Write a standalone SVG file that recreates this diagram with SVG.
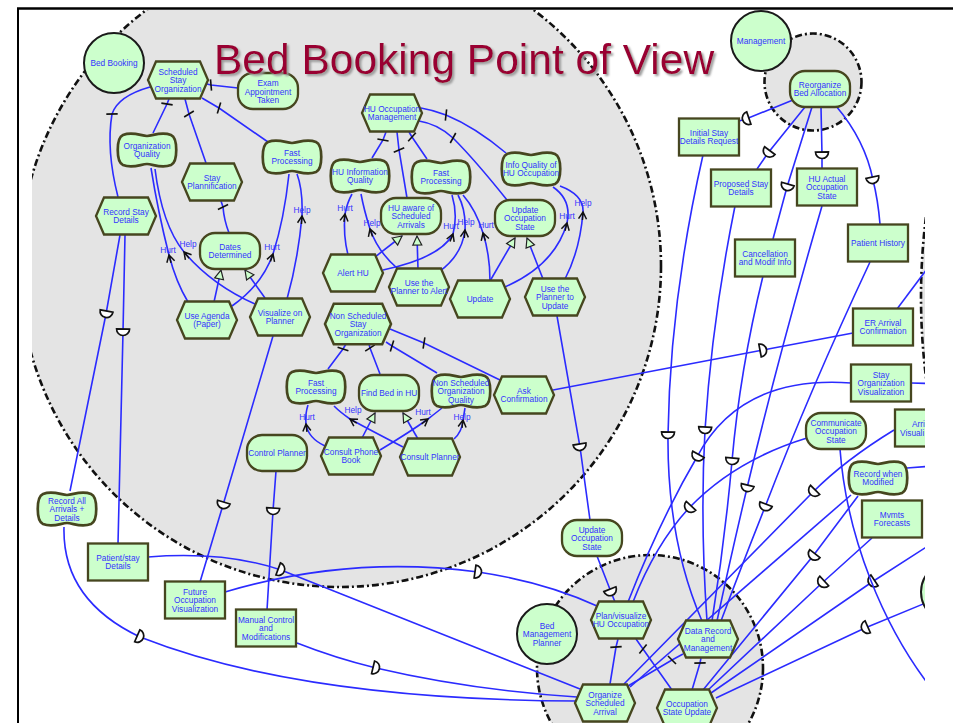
<svg xmlns="http://www.w3.org/2000/svg" width="953" height="723" viewBox="0 0 953 723">
<defs>
<style>
.bnd{fill:#e4e4e4;stroke:#111;stroke-width:2.6;stroke-dasharray:7 3 2 3}
.lk{fill:none;stroke:#2b2bff;stroke-width:1.6}
.dec{marker-mid:url(#tick)}
.con{marker-mid:url(#arr)}
.me{marker-end:url(#tri)}
.dep{marker-mid:url(#dmark)}
.task,.goal,.res{fill:#ccffcc;stroke:#46461f;stroke-width:2.3}
.soft{fill:#ccffcc;stroke:#46461f;stroke-width:2.7}
.actor{fill:#ccffcc;stroke:#1a1a1a;stroke-width:2}
.t{font-family:"Liberation Sans",Arial,sans-serif;font-size:8.3px;fill:#3333ff;text-anchor:middle}
.ts{font-family:"Liberation Sans",Arial,sans-serif;font-size:8.3px;fill:#3333ff}
.title{font-family:"Liberation Sans",Arial,sans-serif;font-size:42.5px;fill:#990033}
</style>
<clipPath id="frame"><rect x="32" y="10" width="893" height="713"/></clipPath>
<filter id="shadow" x="-5%" y="-20%" width="110%" height="150%">
<feDropShadow dx="2" dy="2" stdDeviation="0.8" flood-color="#9a9a9a" flood-opacity="1"/>
</filter>
<marker id="dmark" viewBox="-10 -10 20 20" markerWidth="20" markerHeight="20" refX="0" refY="0" orient="auto" markerUnits="userSpaceOnUse">
<path d="M-3,-6.5 A6.5,6.5 0 0 1 -3,6.5 Z" fill="#fff" stroke="#111" stroke-width="1.7"/>
</marker>
<marker id="tick" viewBox="-10 -10 20 20" markerWidth="20" markerHeight="20" refX="0" refY="0" orient="auto" markerUnits="userSpaceOnUse">
<path d="M-1.5,-5.5 L1.5,5.5" stroke="#111" stroke-width="1.6"/>
</marker>
<marker id="arr" viewBox="-10 -10 20 20" markerWidth="20" markerHeight="20" refX="0" refY="0" orient="auto" markerUnits="userSpaceOnUse">
<path d="M-7,-4 L0,0 L-7,4 M0,0 L-8,0" fill="none" stroke="#111" stroke-width="1.5"/>
</marker>
<marker id="tri" viewBox="-12 -8 16 16" markerWidth="16" markerHeight="16" refX="0" refY="0" orient="auto" markerUnits="userSpaceOnUse">
<path d="M-9,-4.5 L0,0 L-9,4.5 Z" fill="#ccffcc" stroke="#222" stroke-width="1.2"/>
</marker>
<path id="hex" d="M-30,0 L-22,-18.5 L22,-18.5 L30,0 L22,18.5 L-22,18.5 Z"/>
<rect id="goal" x="-30" y="-18" width="60" height="36" rx="15"/>
<rect id="res" x="-30" y="-18.5" width="60" height="37"/>
<path id="soft" d="M-24,-15 C-14,-19 -6,-14 0,-14 C6,-14 14,-19 24,-15 C31,-12 31,12 24,15 C14,19 6,14 0,14 C-6,14 -14,19 -24,15 C-31,12 -31,-12 -24,-15 Z"/>
<circle id="actor" r="30"/>
</defs>

<rect width="953" height="723" fill="#fff"/>

<g clip-path="url(#frame)">
<!-- actor boundaries -->
<g id="boundaries">
<circle class="bnd" cx="340" cy="266" r="321"/>
<circle class="bnd" cx="813" cy="82" r="48.5"/>
<circle class="bnd" cx="650" cy="668" r="113"/>
<circle class="bnd" cx="1571" cy="297" r="650"/>
</g>

<g id="connectors">
<!-- decompositions -->
<path class="lk dec" d="M238,88 L211,85 L207,84"/>
<path class="lk dec" d="M118,197 Q106,150 112,114 Q118,96 150,87"/>
<path class="lk dec" d="M153,133 L167,104 L169,99"/>
<path class="lk dec" d="M206,163 L189,114 L185,99"/>
<path class="lk dec" d="M268,142 L219,108 L202,98"/>
<path class="lk dec" d="M229,233 Q224,220 223,207 L221,201"/>
<path class="lk dec" d="M372,158 L383,140 L386,132"/>
<path class="lk dec" d="M407,198 L399,150 L397,132"/>
<path class="lk dec" d="M427,159 L412,137 L409,132"/>
<path class="lk dec" d="M507,200 Q475,160 453,138 Q438,124 419,121"/>
<path class="lk dec" d="M506,153 Q475,127 446,115 Q433,110 421,108"/>
<path class="lk dec" d="M328,369 L343,349 L346,344"/>
<path class="lk dec" d="M380,374 L370,348 L369,344"/>
<path class="lk dec" d="M437,373 L392,346 L386,342"/>
<path class="lk dec" d="M502,381 L424,343 L390,329"/>
<path class="lk dec" d="M610,684 L616,647 L618,639"/>
<path class="lk dec" d="M628,686 L672,660 L683,654"/>
<path class="lk dec" d="M672,690 L643,649 L636,639"/>
<path class="lk dec" d="M692,690 L700,663 L701,658"/>
<!-- contributions -->
<path class="lk con" d="M188,302 Q176,282 169,255 Q158,212 151,168"/>
<path class="lk con" d="M255,304 Q212,285 184,252 Q162,225 155,169"/>
<path class="lk con" d="M232,306 Q262,285 273,254 Q284,220 289,174"/>
<path class="lk con" d="M287,299 Q298,260 302,216 Q303,190 297,174"/>
<path class="lk con" d="M348,255 Q343,235 345,214 Q347,203 352,194"/>
<path class="lk con" d="M398,269 Q378,252 370,229 Q364,210 361,194"/>
<path class="lk con" d="M383,270 Q440,258 453,234 Q458,215 452,195"/>
<path class="lk con" d="M440,271 Q462,255 465,230 Q466,210 458,195"/>
<path class="lk con" d="M490,281 Q490,255 483,233 Q476,210 463,195"/>
<path class="lk con" d="M505,287 Q555,265 567,223 Q572,200 553,187"/>
<path class="lk con" d="M565,279 Q580,250 583,212 Q584,195 560,186"/>
<path class="lk con" d="M325,446 Q308,438 306,424 Q305,414 308,405"/>
<path class="lk con" d="M403,447 Q370,430 350,419 Q340,412 334,406"/>
<path class="lk con" d="M380,450 Q410,432 428,419 Q437,412 442,408"/>
<path class="lk con" d="M454,439 Q462,432 463,420 Q464,414 465,408"/>
<!-- means-end -->
<path class="lk me" d="M214,302 L221,270"/>
<path class="lk me" d="M265,298 L245,270"/>
<path class="lk me" d="M375,257 L402,236"/>
<path class="lk me" d="M418,269 L417,236"/>
<path class="lk me" d="M490,281 L515,238"/>
<path class="lk me" d="M543,279 L527,238"/>
<path class="lk me" d="M362,438 L375,413"/>
<path class="lk me" d="M418,439 L403,413"/>
<!-- dependencies -->
<path class="lk dep" d="M120,235 L106,314 L70,491"/>
<path class="lk dep" d="M125,235 L123,332 L118,544"/>
<path class="lk dep" d="M273,336 L223,505 L200,582"/>
<path class="lk dep" d="M276,471 L273,511 L267,610"/>
<path class="lk dep" d="M557,316 L580,447 L590,520"/>
<path class="lk dep" d="M597,556 L611,592 L615,602"/>
<path class="lk dep" d="M148,557 Q225,551 281,570 L580,689"/>
<path class="lk dep" d="M225,592 Q350,555 478,572 Q545,582 597,606"/>
<path class="lk dep" d="M297,643 Q335,658 376,668 Q470,690 577,697"/>
<path class="lk dep" d="M64,527 Q62,600 140,637 Q300,700 577,701"/>
<path class="lk dep" d="M553,390 L763,350 L853,333"/>
<path class="lk dep" d="M793,100 L746,119 L739,121"/>
<path class="lk dep" d="M805,107 L768,153 L757,169"/>
<path class="lk dep" d="M812,107 L787,187 L773,239"/>
<path class="lk dep" d="M821,107 L822,155 L822,168"/>
<path class="lk dep" d="M836,106 Q865,140 873,180 Q878,200 880,224"/>
<path class="lk dep" d="M703,155 Q670,300 668,435 Q667,540 702,621"/>
<path class="lk dep" d="M735,206 Q712,320 705,430 Q700,520 707,621"/>
<path class="lk dep" d="M763,276 Q740,370 732,461 Q725,540 712,621"/>
<path class="lk dep" d="M822,206 Q780,350 747,488 Q730,560 717,621"/>
<path class="lk dep" d="M870,262 Q810,390 765,507 Q740,570 721,621"/>
<path class="lk dep" d="M851,383 Q740,375 697,457 Q660,520 628,602"/>
<path class="lk dep" d="M807,438 Q735,460 689,508 Q655,545 633,602"/>
<path class="lk dep" d="M894,430 Q845,460 813,492 L624,684"/>
<path class="lk dep" d="M858,496 L813,556 L703,690"/>
<path class="lk dep" d="M872,538 L822,583 L707,691"/>
<path class="lk dep" d="M945,535 L872,582 L711,693"/>
<path class="lk dep" d="M945,595 L865,628 L716,698"/>
<!-- links leaving the frame -->
<path class="lk" d="M630,687 L851,495"/>
<path class="lk" d="M840,449 C846,530 880,630 945,705"/>
<path class="lk" d="M911,383 L945,384"/>
<path class="lk" d="M897,309 L945,245"/>
<path class="lk" d="M907,468 L945,465"/>
<!-- contribution labels -->
<text class="t" x="168" y="253">Hurt</text>
<text class="t" x="188" y="247">Help</text>
<text class="t" x="272" y="250">Hurt</text>
<text class="t" x="302" y="213">Help</text>
<text class="t" x="345" y="211">Hurt</text>
<text class="t" x="372" y="226">Help</text>
<text class="t" x="451" y="229">Hurt</text>
<text class="t" x="466" y="225">Help</text>
<text class="t" x="486" y="228">Hurt</text>
<text class="t" x="567" y="219">Hurt</text>
<text class="t" x="583" y="206">Help</text>
<text class="t" x="307" y="420">Hurt</text>
<text class="t" x="353" y="413">Help</text>
<text class="t" x="423" y="415">Hurt</text>
<text class="t" x="462" y="420">Help</text>
</g>

<!-- actors -->
<g id="bedBooking" transform="translate(114,63)"><use href="#actor" class="actor"/><text class="t"><tspan x="0" y="3">Bed Booking</tspan></text></g>
<g id="management" transform="translate(761,41)"><use href="#actor" class="actor"/><text class="t"><tspan x="0" y="3">Management</tspan></text></g>
<g id="bedMgmtPlanner" transform="translate(547,634)"><use href="#actor" class="actor"/><text class="t"><tspan x="0" y="-5.5">Bed</tspan><tspan x="0" y="3">Management</tspan><tspan x="0" y="11.5">Planner</tspan></text></g>
<g id="rightActor" transform="translate(951,592)"><use href="#actor" class="actor"/></g>

<!-- tasks -->
<g id="scheduledStay" transform="translate(178,80)"><use href="#hex" class="task"/><text class="t"><tspan x="0" y="-5.5">Scheduled</tspan><tspan x="0" y="3">Stay</tspan><tspan x="0" y="11.5">Organization</tspan></text></g>
<g id="stayPlan" transform="translate(212,182)"><use href="#hex" class="task"/><text class="t"><tspan x="0" y="-1.25">Stay</tspan><tspan x="0" y="7.25">Plannification</tspan></text></g>
<g id="recordStay" transform="translate(126,216)"><use href="#hex" class="task"/><text class="t"><tspan x="0" y="-1.25">Record Stay</tspan><tspan x="0" y="7.25">Details</tspan></text></g>
<g id="useAgenda" transform="translate(207,320)"><use href="#hex" class="task"/><text class="t"><tspan x="0" y="-1.25">Use Agenda</tspan><tspan x="0" y="7.25">(Paper)</tspan></text></g>
<g id="visualizePlanner" transform="translate(280,317)"><use href="#hex" class="task"/><text class="t"><tspan x="0" y="-1.25">Visualize on</tspan><tspan x="0" y="7.25">Planner</tspan></text></g>
<g id="huOccMgmt" transform="translate(392,113)"><use href="#hex" class="task"/><text class="t"><tspan x="0" y="-1.25">HU Occupation</tspan><tspan x="0" y="7.25">Management</tspan></text></g>
<g id="alertHU" transform="translate(353,273)"><use href="#hex" class="task"/><text class="t"><tspan x="0" y="3">Alert HU</tspan></text></g>
<g id="usePlannerAlert" transform="translate(419,287)"><use href="#hex" class="task"/><text class="t"><tspan x="0" y="-1.25">Use the</tspan><tspan x="0" y="7.25">Planner to Alert</tspan></text></g>
<g id="update" transform="translate(480,299)"><use href="#hex" class="task"/><text class="t"><tspan x="0" y="3">Update</tspan></text></g>
<g id="usePlannerUpdate" transform="translate(555,297)"><use href="#hex" class="task"/><text class="t"><tspan x="0" y="-5.5">Use the</tspan><tspan x="0" y="3">Planner to</tspan><tspan x="0" y="11.5">Update</tspan></text></g>
<g id="nonSchedStay" transform="translate(358,324)"><use href="#hex" class="task" transform="scale(1.1)"/><text class="t"><tspan x="0" y="-5.5">Non Scheduled</tspan><tspan x="0" y="3">Stay</tspan><tspan x="0" y="11.5">Organization</tspan></text></g>
<g id="askConfirm" transform="translate(524,395)"><use href="#hex" class="task"/><text class="t"><tspan x="0" y="-1.25">Ask</tspan><tspan x="0" y="7.25">Confirmation</tspan></text></g>
<g id="consultPhone" transform="translate(351,456)"><use href="#hex" class="task"/><text class="t"><tspan x="0" y="-1.25">Consult Phone</tspan><tspan x="0" y="7.25">Book</tspan></text></g>
<g id="consultPlanner" transform="translate(430,457)"><use href="#hex" class="task"/><text class="t"><tspan x="0" y="3">Consult Planner</tspan></text></g>
<g id="planVisualize" transform="translate(621,620)"><use href="#hex" class="task"/><text class="t"><tspan x="0" y="-1.25">Plan/visualize</tspan><tspan x="0" y="7.25">HU Occupation</tspan></text></g>
<g id="dataRecord" transform="translate(708,639)"><use href="#hex" class="task"/><text class="t"><tspan x="0" y="-5.5">Data Record</tspan><tspan x="0" y="3">and</tspan><tspan x="0" y="11.5">Management</tspan></text></g>
<g id="organizeSched" transform="translate(605,703)"><use href="#hex" class="task"/><text class="t"><tspan x="0" y="-5.5">Organize</tspan><tspan x="0" y="3">Scheduled</tspan><tspan x="0" y="11.5">Arrival</tspan></text></g>
<g id="occStateUpdate" transform="translate(687,708)"><use href="#hex" class="task"/><text class="t"><tspan x="0" y="-1.25">Occupation</tspan><tspan x="0" y="7.25">State Update</tspan></text></g>

<!-- goals -->
<g id="examAppt" transform="translate(268,91)"><use href="#goal" class="goal"/><text class="t"><tspan x="0" y="-5">Exam</tspan><tspan x="0" y="3.5">Appointment</tspan><tspan x="0" y="12">Taken</tspan></text></g>
<g id="datesDetermined" transform="translate(230,251)"><use href="#goal" class="goal"/><text class="t"><tspan x="0" y="-1.25">Dates</tspan><tspan x="0" y="7.25">Determined</tspan></text></g>
<g id="huAware" transform="translate(411,216)"><use href="#goal" class="goal"/><text class="t"><tspan x="0" y="-5.5">HU aware of</tspan><tspan x="0" y="3">Scheduled</tspan><tspan x="0" y="11.5">Arrivals</tspan></text></g>
<g id="updOccState" transform="translate(525,218)"><use href="#goal" class="goal"/><text class="t"><tspan x="0" y="-5.5">Update</tspan><tspan x="0" y="3">Occupation</tspan><tspan x="0" y="11.5">State</tspan></text></g>
<g id="findBed" transform="translate(389,393)"><use href="#goal" class="goal"/><text class="t"><tspan x="0" y="3">Find Bed in HU</tspan></text></g>
<g id="controlPlanner" transform="translate(277,453)"><use href="#goal" class="goal"/><text class="t"><tspan x="0" y="3">Control Planner</tspan></text></g>
<g id="updOccState2" transform="translate(592,538)"><use href="#goal" class="goal"/><text class="t"><tspan x="0" y="-5.5">Update</tspan><tspan x="0" y="3">Occupation</tspan><tspan x="0" y="11.5">State</tspan></text></g>
<g id="communicateOcc" transform="translate(836,431)"><use href="#goal" class="goal"/><text class="t"><tspan x="0" y="-5.5">Communicate</tspan><tspan x="0" y="3">Occupation</tspan><tspan x="0" y="11.5">State</tspan></text></g>
<g id="reorganize" transform="translate(820,89)"><use href="#goal" class="goal"/><text class="t"><tspan x="0" y="-1.25">Reorganize</tspan><tspan x="0" y="7.25">Bed Allocation</tspan></text></g>

<!-- softgoals -->
<g id="orgQuality" transform="translate(147,150)"><use href="#soft" class="soft"/><text class="t"><tspan x="0" y="-1.25">Organization</tspan><tspan x="0" y="7.25">Quality</tspan></text></g>
<g id="fastProc1" transform="translate(292,157)"><use href="#soft" class="soft"/><text class="t"><tspan x="0" y="-1.25">Fast</tspan><tspan x="0" y="7.25">Processing</tspan></text></g>
<g id="huInfoQuality" transform="translate(360,176)"><use href="#soft" class="soft"/><text class="t"><tspan x="0" y="-1.25">HU Information</tspan><tspan x="0" y="7.25">Quality</tspan></text></g>
<g id="fastProc2" transform="translate(441,177)"><use href="#soft" class="soft"/><text class="t"><tspan x="0" y="-1.25">Fast</tspan><tspan x="0" y="7.25">Processing</tspan></text></g>
<g id="infoQuality" transform="translate(531,169)"><use href="#soft" class="soft"/><text class="t"><tspan x="0" y="-1.25">Info Quality of</tspan><tspan x="0" y="7.25">HU Occupation</tspan></text></g>
<g id="fastProc3" transform="translate(316,387)"><use href="#soft" class="soft"/><text class="t"><tspan x="0" y="-1.25">Fast</tspan><tspan x="0" y="7.25">Processing</tspan></text></g>
<g id="nsOrgQuality" transform="translate(461,391)"><use href="#soft" class="soft"/><text class="t"><tspan x="0" y="-5.5">Non Scheduled</tspan><tspan x="0" y="3">Organization</tspan><tspan x="0" y="11.5">Quality</tspan></text></g>
<g id="recordAll" transform="translate(67,509)"><use href="#soft" class="soft"/><text class="t"><tspan x="0" y="-5.5">Record All</tspan><tspan x="0" y="3">Arrivals +</tspan><tspan x="0" y="11.5">Details</tspan></text></g>
<g id="recordWhenMod" transform="translate(878,478)"><use href="#soft" class="soft"/><text class="t"><tspan x="0" y="-1.25">Record when</tspan><tspan x="0" y="7.25">Modified</tspan></text></g>

<!-- resources -->
<g id="initialStay" transform="translate(709,137)"><use href="#res" class="res"/><text class="t"><tspan x="0" y="-1.25">Initial Stay</tspan><tspan x="0" y="7.25">Details Request</tspan></text></g>
<g id="proposedStay" transform="translate(741,188)"><use href="#res" class="res"/><text class="t"><tspan x="0" y="-1.25">Proposed Stay</tspan><tspan x="0" y="7.25">Details</tspan></text></g>
<g id="huActual" transform="translate(827,187)"><use href="#res" class="res"/><text class="t"><tspan x="0" y="-5.5">HU Actual</tspan><tspan x="0" y="3">Occupation</tspan><tspan x="0" y="11.5">State</tspan></text></g>
<g id="patientHistory" transform="translate(878,243)"><use href="#res" class="res"/><text class="t"><tspan x="0" y="3">Patient History</tspan></text></g>
<g id="cancellation" transform="translate(765,258)"><use href="#res" class="res"/><text class="t"><tspan x="0" y="-1.25">Cancellation</tspan><tspan x="0" y="7.25">and Modif Info</tspan></text></g>
<g id="erArrival" transform="translate(883,327)"><use href="#res" class="res"/><text class="t"><tspan x="0" y="-1.25">ER Arrival</tspan><tspan x="0" y="7.25">Confirmation</tspan></text></g>
<g id="stayOrgVis" transform="translate(881,383)"><use href="#res" class="res"/><text class="t"><tspan x="0" y="-5.5">Stay</tspan><tspan x="0" y="3">Organization</tspan><tspan x="0" y="11.5">Visualization</tspan></text></g>
<g id="arrivalVis" transform="translate(925,428)"><use href="#res" class="res"/><text class="ts"><tspan x="-13" y="-1.5">Arri</tspan><tspan x="-25" y="7.5">Visuali</tspan></text></g>
<g id="mvmts" transform="translate(892,519)"><use href="#res" class="res"/><text class="t"><tspan x="0" y="-1.25">Mvmts</tspan><tspan x="0" y="7.25">Forecasts</tspan></text></g>
<g id="patientStay" transform="translate(118,562)"><use href="#res" class="res"/><text class="t"><tspan x="0" y="-1.25">Patient/stay</tspan><tspan x="0" y="7.25">Details</tspan></text></g>
<g id="futureOcc" transform="translate(195,600)"><use href="#res" class="res"/><text class="t"><tspan x="0" y="-5.5">Future</tspan><tspan x="0" y="3">Occupation</tspan><tspan x="0" y="11.5">Visualization</tspan></text></g>
<g id="manualControl" transform="translate(266,628)"><use href="#res" class="res"/><text class="t"><tspan x="0" y="-5.5">Manual Control</tspan><tspan x="0" y="3">and</tspan><tspan x="0" y="11.5">Modifications</tspan></text></g>
</g>

<!-- slide frame and title -->
<line x1="17" y1="8.5" x2="953" y2="8.5" stroke="#000" stroke-width="2.5"/>
<line x1="18" y1="8" x2="18" y2="723" stroke="#000" stroke-width="2"/>
<text class="title" x="214" y="74" filter="url(#shadow)">Bed Booking Point of View</text>
</svg>
